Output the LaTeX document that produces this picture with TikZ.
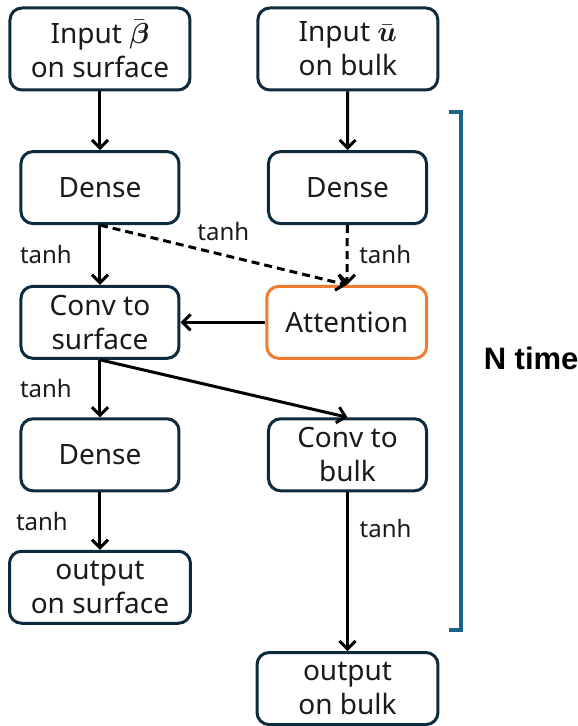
\documentclass[tikz,border=0pt]{standalone}
\usepackage{amsmath}
\usepackage{fontspec}
\setmainfont{Noto Sans}
\newfontfamily\notefont{Liberation Sans}
\usetikzlibrary{arrows.meta, positioning, calc}
\tikzset{
    block/.style={rectangle, draw=DarkNavy, line width=1.5pt, text=TextBlack, minimum width=2.777cm, minimum height=1.265cm, inner sep=0pt, align=center, rounded corners=6pt, font=\fontsize{14}{17}\selectfont},
    block_io/.style={block, minimum width=3.163cm, minimum height=1.441cm},
    block_out/.style={block, minimum width=3.18cm},
    block_o/.style={block, draw=AccentOrange, minimum width=2.81cm},
    arr/.style={-{Straight Barb[length=4pt,width=8pt]}, line width=1.5pt, draw=black},
    arr_d/.style={arr, dash pattern=on 4pt off 2.5pt},
    lbl/.style={font=\fontsize{12}{14}\selectfont, text=TextBlack},
    note/.style={font=\notefont\bfseries\fontsize{15.5}{18}\selectfont, text=black},
    brk/.style={draw=BracketBlue, line width=2pt, line join=miter},
}
\definecolor{DarkNavy}{HTML}{0E2B3D}
\definecolor{AccentOrange}{HTML}{ED7D31}
\definecolor{BracketBlue}{HTML}{1B6388}
\definecolor{TextBlack}{HTML}{1A1A1A}

\begin{document}
\begin{tikzpicture}
\useasboundingbox (-1.757,0.861) rectangle (8.400,-11.897);
% inputs
\node[block_io] (inbeta) at (0,0) {Input $\bar{\boldsymbol{\beta}}$\\on surface};
\node[block_io, right=1.14cm of inbeta] (inu) {Input $\bar{\boldsymbol{u}}$\\on bulk};
% surface column
\node[block, below=1.03cm of inbeta] (denses) {Dense};
\node[block, below=1.05cm of denses] (convs) {Conv to\\surface};
\node[block, below=1.01cm of convs] (denseo) {Dense};
\node[block_out, below=1.01cm of denseo] (outs) {output\\on surface};
% bulk column
\node[block, right=1.52cm of denses] (denseu) {Dense};
\node[block_o, right=1.49cm of convs] (attn) {Attention};
\node[block, right=1.52cm of denseo] (convu) {Conv to\\bulk};
\node[block_out, below=2.79cm of convu] (outu) {output\\on bulk};

% input paths
\draw[arr] (inbeta) -- (denses);
\draw[arr] (inu) -- (denseu);
% into attention
\draw[arr] (denses) -- (convs) node[midway, lbl, left=10pt] {tanh};
\draw[arr_d] (denses.south) -- (attn.north) node[midway, lbl, above=3pt] {tanh};
\draw[arr_d] (denseu) -- (attn) node[midway, lbl, right=2pt] {tanh};
\draw[arr] (attn) -- (convs);
% outputs
\draw[arr] (convs) -- (denseo) node[midway, lbl, left=10pt] {tanh};
\draw[arr] (convs.south) -- (convu.north);
\draw[arr] (denseo) -- (outs) node[midway, lbl, left=12pt] {tanh};
\draw[arr] (convu) -- (outu) node[pos=0.23, lbl, right=2pt] {tanh};

% repeat bracket
\coordinate (btop) at (6.344,-1.107);
\coordinate (bbot) at (6.344,-10.210);
\draw[brk] ($(btop)+(-0.21,0)$) -- (btop) -- (bbot) -- ++(-0.21,0);
\node[note, anchor=west] (ntimes) at (6.62,-5.43) {N time};
\end{tikzpicture}
\end{document}
